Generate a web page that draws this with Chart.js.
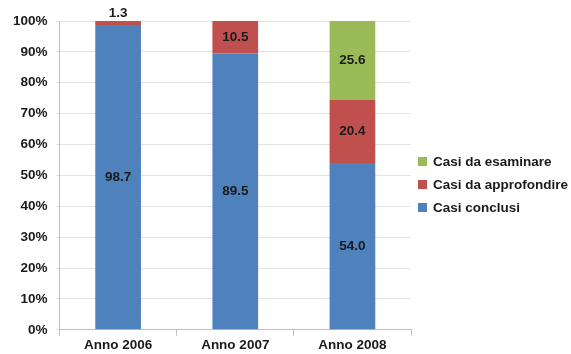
<!DOCTYPE html>
<html>
<head>
<meta charset="utf-8">
<script src="https://cdn.jsdelivr.net/npm/chart.js@4"></script>
<style>
  html, body { margin: 0; padding: 0; background: #ffffff; }
  #wrap { width: 571px; height: 354px; }
</style>
</head>
<body>
<div id="wrap"><canvas id="casiChart"></canvas></div>
<script>
// Percentages per year
const anni = ['Anno 2006', 'Anno 2007', 'Anno 2008'];
const casiConclusi = [98.7, 89.5, 54.0];
const casiDaApprofondire = [1.3, 10.5, 20.4];
const casiDaEsaminare = [0, 0, 25.6];
const yTicks = [0, 10, 20, 30, 40, 50, 60, 70, 80, 90, 100];

const FONT = "'Liberation Sans', Arial, sans-serif";
const TEXT = '#1a1a1a';

// Writes the value inside each segment (or just above it when the segment is thin)
const segmentLabels = {
    id: 'segmentLabels',
    afterDatasetsDraw(chart) {
        const ctx = chart.ctx;
        ctx.save();
        ctx.font = 'bold 13.5px ' + FONT;
        ctx.fillStyle = TEXT;
        ctx.textAlign = 'center';
        ctx.textBaseline = 'middle';
        chart.data.datasets.forEach((ds, di) => {
            const meta = chart.getDatasetMeta(di);
            meta.data.forEach((bar, i) => {
                const v = ds.data[i];
                if (!v) return;
                const h = Math.abs(bar.base - bar.y);
                const y = h < 16 ? bar.y - 8 : (bar.y + bar.base) / 2;
                ctx.fillText(v.toFixed(1), bar.x, y);
            });
        });
        ctx.restore();
    }
};

// Legend on the right, top entry first (reverse of stacking order)
const sideLegend = {
    id: 'sideLegend',
    afterDraw(chart) {
        const ctx = chart.ctx;
        const area = chart.chartArea;
        const sets = chart.data.datasets.slice().reverse();
        const x = area.right + 7;
        const y0 = 161;
        const step = 23;
        ctx.save();
        ctx.font = 'bold 13.5px ' + FONT;
        ctx.textBaseline = 'middle';
        ctx.textAlign = 'left';
        sets.forEach((ds, i) => {
            const y = y0 + i * step;
            ctx.fillStyle = ds.backgroundColor;
            ctx.fillRect(x, y - 4, 9, 9);
            ctx.fillStyle = TEXT;
            ctx.fillText(ds.label, x + 15, y + 1);
        });
        ctx.restore();
    }
};

const ctx = document.getElementById('casiChart').getContext('2d');
new Chart(ctx, {
    type: 'bar',
    data: {
        labels: anni,
        datasets: [
            { label: 'Casi conclusi', data: casiConclusi, backgroundColor: '#4F81BD' },
            { label: 'Casi da approfondire', data: casiDaApprofondire, backgroundColor: '#C0504D' },
            { label: 'Casi da esaminare', data: casiDaEsaminare, backgroundColor: '#9BBB59' }
        ]
    },
    options: {
        responsive: true,
        maintainAspectRatio: false,
        animation: false,
        datasets: { bar: { categoryPercentage: 1, barPercentage: 0.39 } },
        layout: { padding: { top: 21, right: 160, left: 5, bottom: 0 } },
        scales: {
            x: {
                stacked: true,
                grid: { offset: true, drawOnChartArea: false, tickLength: 6, color: '#bfbfbf' },
                border: { color: '#bfbfbf' },
                ticks: { color: TEXT, font: { family: FONT, size: 13.5, weight: 'bold' }, padding: 1 }
            },
            y: {
                stacked: true,
                min: 0,
                max: 100,
                afterBuildTicks(axis) { axis.ticks = yTicks.map(v => ({ value: v })); },
                grid: { color: '#e3e3e3', tickLength: 4 },
                border: { color: '#bfbfbf' },
                ticks: {
                    color: TEXT,
                    font: { family: FONT, size: 13.5, weight: 'bold' },
                    padding: 8,
                    callback: v => v + '%'
                }
            }
        },
        plugins: {
            legend: { display: false },
            tooltip: { enabled: false }
        }
    },
    plugins: [segmentLabels, sideLegend]
});
</script>
</body>
</html>
